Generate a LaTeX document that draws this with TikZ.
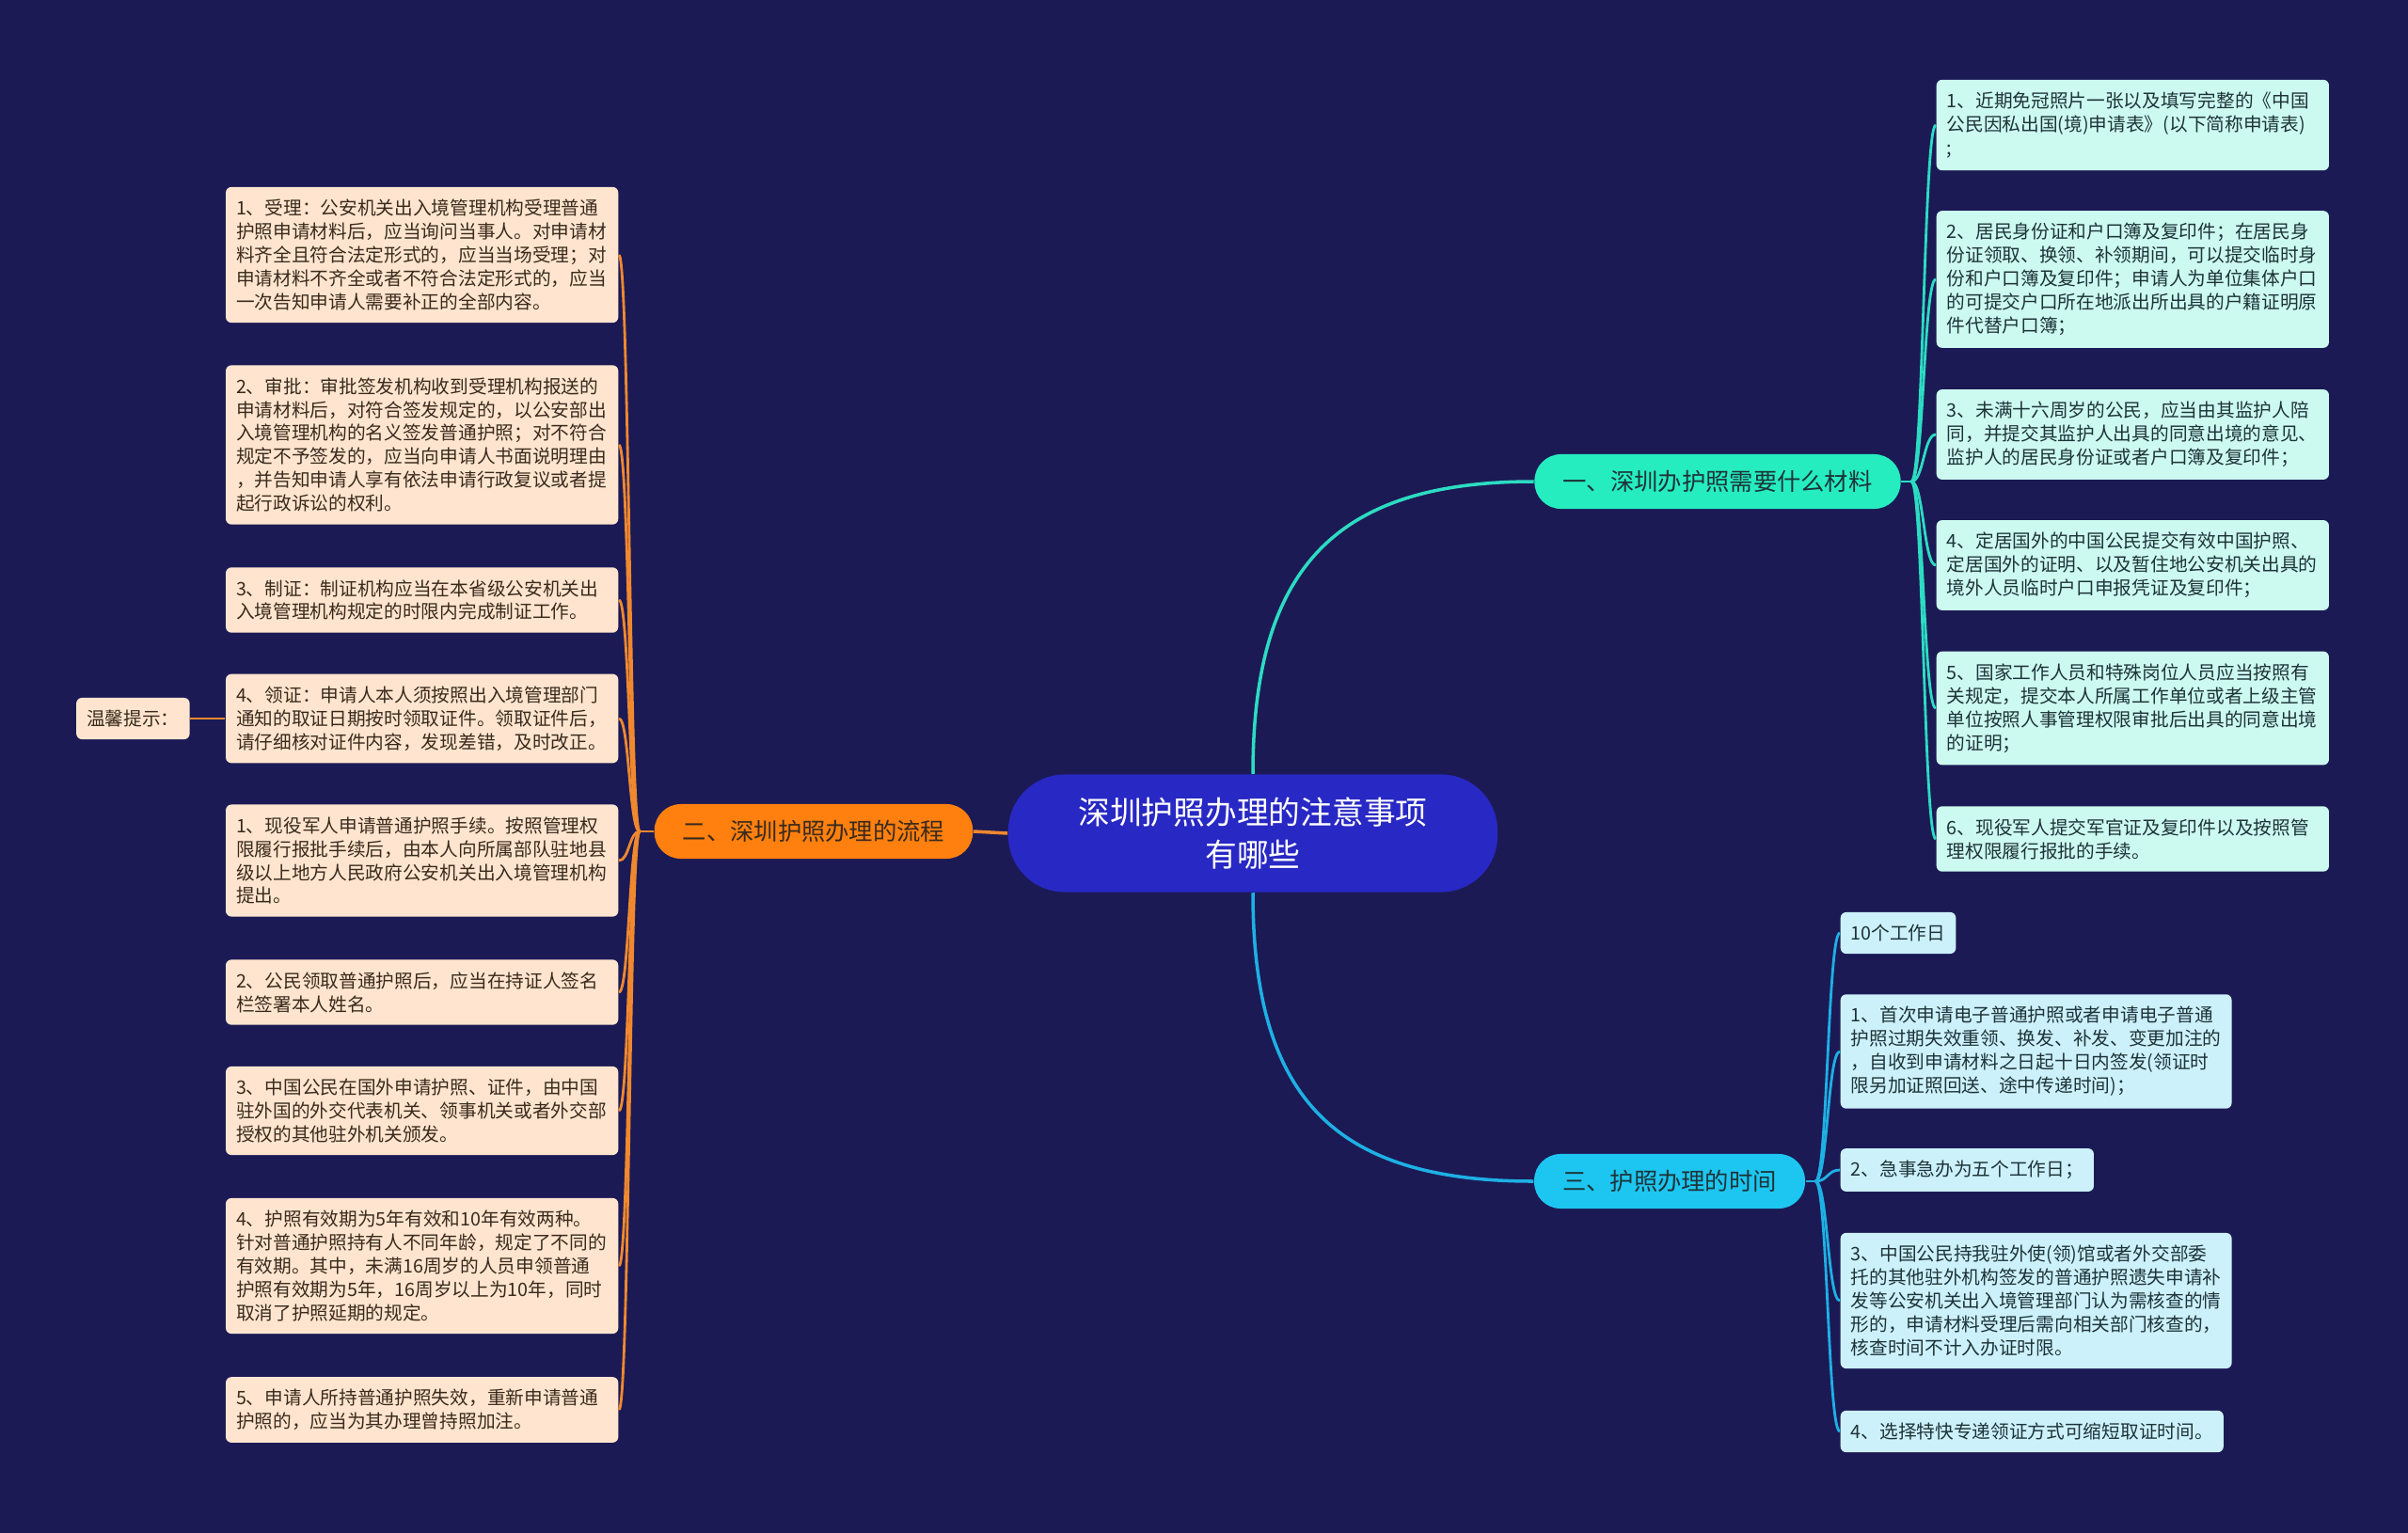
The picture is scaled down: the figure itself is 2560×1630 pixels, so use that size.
\documentclass[tikz,border=0pt]{standalone}
\usepackage{fontspec}
\setmainfont{Noto Sans CJK SC}
\usetikzlibrary{positioning}
\definecolor{bgnavy}{HTML}{1B1A55}
\definecolor{rootblue}{HTML}{2828C4}
\definecolor{brorange}{HTML}{FF800F}
\definecolor{brgreen}{HTML}{26EDC0}
\definecolor{brblue}{HTML}{1DC6F0}
\definecolor{lforange}{HTML}{FFE5CF}
\definecolor{lfgreen}{HTML}{CDFAF0}
\definecolor{lfblue}{HTML}{CDF1FB}
\definecolor{lnorange}{HTML}{F0882E}
\definecolor{lngreen}{HTML}{2CDCC2}
\definecolor{lnblue}{HTML}{1EB0E4}
\definecolor{txbrown}{HTML}{3A2A1C}
\definecolor{txdark}{HTML}{1D3338}
\newcommand{\leaffont}{\fontsize{5.6}{7.1}\selectfont}
\newcommand{\branchfont}{\fontsize{7.2}{9}\selectfont}
\newcommand{\rootfont}{\fontsize{9.6}{13}\selectfont}
\tikzset{
    root_box/.style={
        rectangle, rounded corners=0.6cm, fill=rootblue, text=white,
        minimum width=5.2cm, minimum height=1.25cm,
        align=center, font=\rootfont
    },
    branch_orange/.style={
        rectangle, rounded corners=0.28cm, fill=brorange, text=txbrown,
        minimum height=0.58cm, inner xsep=0.3cm, font=\branchfont
    },
    branch_green/.style={
        branch_orange, fill=brgreen, text=txdark
    },
    branch_blue/.style={
        branch_orange, fill=brblue, text=txdark
    },
    leaf_orange/.style={
        rectangle, rounded corners=0.06cm, fill=lforange, text=txbrown,
        inner xsep=0.11cm, inner ysep=0.13cm, align=left, font=\leaffont
    },
    leaf_green/.style={
        leaf_orange, fill=lfgreen, text=txdark
    },
    leaf_blue/.style={
        leaf_orange, fill=lfblue, text=txdark
    },
    leaf_wide/.style={text width=3.95cm},
    link_orange/.style={draw=lnorange, line width=0.8pt},
    link_green/.style={draw=lngreen, line width=0.8pt},
    link_blue/.style={draw=lnblue, line width=0.8pt}
}

\begin{document}
\begin{tikzpicture}[x=0.01cm, y=-0.01cm]

    \fill[bgnavy] (0,0) rectangle (2560,1630);
    \useasboundingbox (0,0) rectangle (2560,1630);

    % centre and branches
    \node[root_box] (root) at (1332,886) {深圳护照办理的注意事项\\有哪些};
    \node[branch_green] (b1) at (1826,512) {一、深圳办护照需要什么材料};
    \node[branch_orange] (b2) at (865,884) {二、深圳护照办理的流程};
    \node[branch_blue] (b3) at (1775,1256) {三、护照办理的时间};

    % left side
    \node[leaf_orange, leaf_wide, anchor=east] (l1) at (658,271) {1、受理：公安机关出入境管理机构受理普通\\护照申请材料后，应当询问当事人。对申请材\\料齐全且符合法定形式的，应当当场受理；对\\申请材料不齐全或者不符合法定形式的，应当\\一次告知申请人需要补正的全部内容。};
    \node[leaf_orange, leaf_wide, anchor=east] (l2) at (658,473) {2、审批：审批签发机构收到受理机构报送的\\申请材料后，对符合签发规定的，以公安部出\\入境管理机构的名义签发普通护照；对不符合\\规定不予签发的，应当向申请人书面说明理由\\，并告知申请人享有依法申请行政复议或者提\\起行政诉讼的权利。};
    \node[leaf_orange, leaf_wide, anchor=east] (l3) at (658,638) {3、制证：制证机构应当在本省级公安机关出\\入境管理机构规定的时限内完成制证工作。};
    \node[leaf_orange, leaf_wide, anchor=east] (l4) at (658,764) {4、领证：申请人本人须按照出入境管理部门\\通知的取证日期按时领取证件。领取证件后，\\请仔细核对证件内容，发现差错，及时改正。};
    \node[leaf_orange, leaf_wide, anchor=east] (l5) at (658,915) {1、现役军人申请普通护照手续。按照管理权\\限履行报批手续后，由本人向所属部队驻地县\\级以上地方人民政府公安机关出入境管理机构\\提出。};
    \node[leaf_orange, leaf_wide, anchor=east] (l6) at (658,1055) {2、公民领取普通护照后，应当在持证人签名\\栏签署本人姓名。};
    \node[leaf_orange, leaf_wide, anchor=east] (l7) at (658,1181) {3、中国公民在国外申请护照、证件，由中国\\驻外国的外交代表机关、领事机关或者外交部\\授权的其他驻外机关颁发。};
    \node[leaf_orange, leaf_wide, anchor=east] (l8) at (658,1346) {4、护照有效期为5年有效和10年有效两种。\\针对普通护照持有人不同年龄，规定了不同的\\有效期。其中，未满16周岁的人员申领普通\\护照有效期为5年，16周岁以上为10年，同时\\取消了护照延期的规定。};
    \node[leaf_orange, leaf_wide, anchor=east] (l9) at (658,1499) {5、申请人所持普通护照失效，重新申请普通\\护照的，应当为其办理曾持照加注。};
    \node[leaf_orange, left=0.37cm of l4] (tip) {温馨提示：};

    % right side, materials
    \node[leaf_green, leaf_wide, anchor=west] (r1) at (2058,133) {1、近期免冠照片一张以及填写完整的《中国\\公民因私出国(境)申请表》(以下简称申请表)\\;};
    \node[leaf_green, leaf_wide, anchor=west] (r2) at (2058,297) {2、居民身份证和户口簿及复印件；在居民身\\份证领取、换领、补领期间，可以提交临时身\\份和户口簿及复印件；申请人为单位集体户口\\的可提交户口所在地派出所出具的户籍证明原\\件代替户口簿；};
    \node[leaf_green, leaf_wide, anchor=west] (r3) at (2058,462) {3、未满十六周岁的公民，应当由其监护人陪\\同，并提交其监护人出具的同意出境的意见、\\监护人的居民身份证或者户口簿及复印件；};
    \node[leaf_green, leaf_wide, anchor=west] (r4) at (2058,601) {4、定居国外的中国公民提交有效中国护照、\\定居国外的证明、以及暂住地公安机关出具的\\境外人员临时户口申报凭证及复印件；};
    \node[leaf_green, leaf_wide, anchor=west] (r5) at (2058,753) {5、国家工作人员和特殊岗位人员应当按照有\\关规定，提交本人所属工作单位或者上级主管\\单位按照人事管理权限审批后出具的同意出境\\的证明；};
    \node[leaf_green, leaf_wide, anchor=west] (r6) at (2058,892) {6、现役军人提交军官证及复印件以及按照管\\理权限履行报批的手续。};

    % right side, time
    \node[leaf_blue, anchor=west] (t0) at (1956,992) {10个工作日};
    \node[leaf_blue, anchor=west] (t1) at (1956,1118) {1、首次申请电子普通护照或者申请电子普通\\护照过期失效重领、换发、补发、变更加注的\\，自收到申请材料之日起十日内签发(领证时\\限另加证照回送、途中传递时间)；};
    \node[leaf_blue, anchor=west] (t2) at (1956,1244) {2、急事急办为五个工作日；};
    \node[leaf_blue, anchor=west] (t3) at (1956,1383) {3、中国公民持我驻外使(领)馆或者外交部委\\托的其他驻外机构签发的普通护照遗失申请补\\发等公安机关出入境管理部门认为需核查的情\\形的，申请材料受理后需向相关部门核查的，\\核查时间不计入办证时限。};
    \node[leaf_blue, anchor=west] (t4) at (1956,1522) {4、选择特快专递领证方式可缩短取证时间。};

    % links
    \coordinate (hub_o) at (680,884);
    \coordinate (hub_g) at (2032,512);
    \coordinate (hub_b) at (1930,1256);

    \draw[link_orange, line width=1pt] (root.west) -- (b2.east);
    \draw[link_green, line width=1pt] (root.north) .. controls +(0,-220) and +(-210,0) .. (b1.west);
    \draw[link_blue, line width=1pt] (root.south) .. controls +(0,220) and +(-210,0) .. (b3.west);

    \draw[link_orange] (b2.west) -- (hub_o);
    \draw[link_orange] (hub_o) .. controls +(-11,0) and +(11,0) .. (l1.east);
    \draw[link_orange] (hub_o) .. controls +(-11,0) and +(11,0) .. (l2.east);
    \draw[link_orange] (hub_o) .. controls +(-11,0) and +(11,0) .. (l3.east);
    \draw[link_orange] (hub_o) .. controls +(-11,0) and +(11,0) .. (l4.east);
    \draw[link_orange] (hub_o) .. controls +(-11,0) and +(11,0) .. (l5.east);
    \draw[link_orange] (hub_o) .. controls +(-11,0) and +(11,0) .. (l6.east);
    \draw[link_orange] (hub_o) .. controls +(-11,0) and +(11,0) .. (l7.east);
    \draw[link_orange] (hub_o) .. controls +(-11,0) and +(11,0) .. (l8.east);
    \draw[link_orange] (hub_o) .. controls +(-11,0) and +(11,0) .. (l9.east);
    \draw[link_orange] (l4.west) -- (tip.east);

    \draw[link_green] (b1.east) -- (hub_g);
    \draw[link_green] (hub_g) .. controls +(13,0) and +(-13,0) .. (r1.west);
    \draw[link_green] (hub_g) .. controls +(13,0) and +(-13,0) .. (r2.west);
    \draw[link_green] (hub_g) .. controls +(13,0) and +(-13,0) .. (r3.west);
    \draw[link_green] (hub_g) .. controls +(13,0) and +(-13,0) .. (r4.west);
    \draw[link_green] (hub_g) .. controls +(13,0) and +(-13,0) .. (r5.west);
    \draw[link_green] (hub_g) .. controls +(13,0) and +(-13,0) .. (r6.west);

    \draw[link_blue] (b3.east) -- (hub_b);
    \draw[link_blue] (hub_b) .. controls +(13,0) and +(-13,0) .. (t0.west);
    \draw[link_blue] (hub_b) .. controls +(13,0) and +(-13,0) .. (t1.west);
    \draw[link_blue] (hub_b) .. controls +(13,0) and +(-13,0) .. (t2.west);
    \draw[link_blue] (hub_b) .. controls +(13,0) and +(-13,0) .. (t3.west);
    \draw[link_blue] (hub_b) .. controls +(13,0) and +(-13,0) .. (t4.west);

\end{tikzpicture}
\end{document}
